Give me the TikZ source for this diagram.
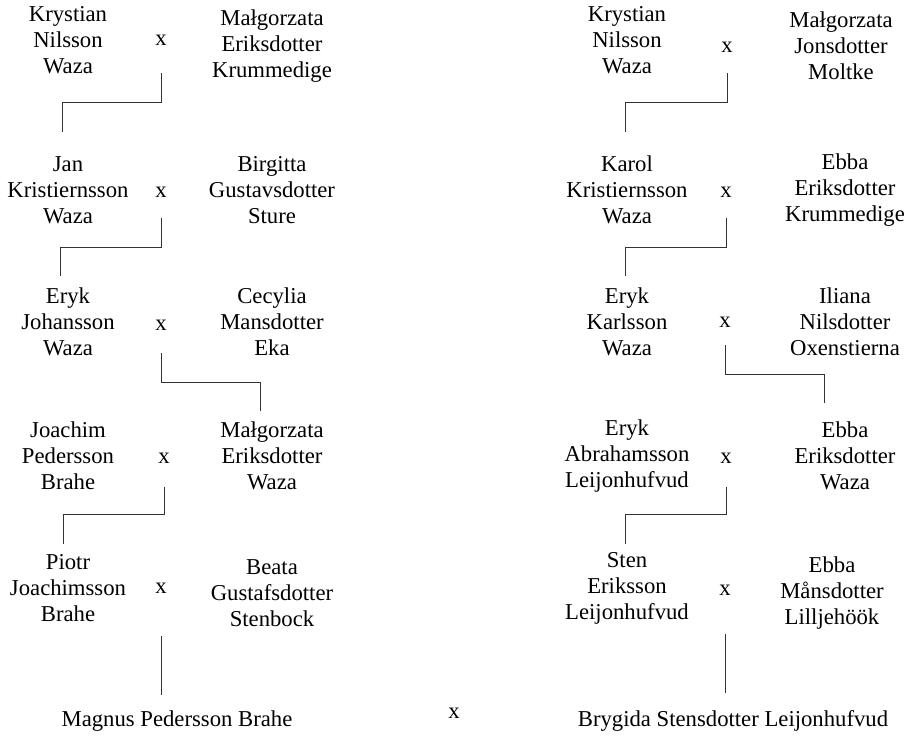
\documentclass[tikz,border=0pt]{standalone}
\usepackage{fontspec}
\setmainfont{Liberation Serif}
\usetikzlibrary{positioning}

\tikzset{
  person/.style={align=center, inner sep=0pt, font=\fontsize{22.7}{26}\selectfont},
  wed/.style={inner sep=0pt, font=\fontsize{22.7}{26}\selectfont},
  link/.style={draw=black!80, line width=0.9pt},
}

\begin{document}
\begin{tikzpicture}[x=1pt,y=1pt]
\useasboundingbox (0,0) rectangle (908,-737);

% left line of ancestors
\foreach \n/\x/\y/\t in {lA1/68/40/{Krystian\\Nilsson\\Waza},
    lB1/272/46/{Małgorzata\\Eriksdotter\\Krummedige},
    lA2/68/190/{Jan\\Kristiernsson\\Waza},
    lB2/272/190/{Birgitta\\Gustavsdotter\\Sture},
    lA3/68/322/{Eryk\\Johansson\\Waza},
    lB3/272/322/{Cecylia\\Mansdotter\\Eka},
    lA4/68/456/{Joachim\\Pedersson\\Brahe},
    lB4/272/456/{Małgorzata\\Eriksdotter\\Waza},
    lA5/68/588/{Piotr\\Joachimsson\\Brahe},
    lB5/272/593/{Beata\\Gustafsdotter\\Stenbock}}
    \node[person] (\n) at (\x,-\y) {\t};

% right line of ancestors
\foreach \n/\x/\y/\t in {rA1/627/40/{Krystian\\Nilsson\\Waza},
    rB1/841/46/{Małgorzata\\Jonsdotter\\Moltke},
    rA2/627/190/{Karol\\Kristiernsson\\Waza},
    rB2/845/190/{Ebba\\Eriksdotter\\Krummedige},
    rA3/627/322/{Eryk\\Karlsson\\Waza},
    rB3/845/322/{Iliana\\Nilsdotter\\Oxenstierna},
    rA4/627/456/{Eryk\\Abrahamsson\\Leijonhufvud},
    rB4/845/456/{Ebba\\Eriksdotter\\Waza},
    rA5/627/588/{Sten\\Eriksson\\Leijonhufvud},
    rB5/832/593/{Ebba\\Månsdotter\\Lilljehöök}}
    \node[person] (\n) at (\x,-\y) {\t};

% marriages
\foreach \n/\x/\y in {lx1/161/40, lx2/161/192, lx3/161/325, lx4/164/458, lx5/161/588,
    rx1/727/47, rx2/726/192, rx3/725/322, rx4/726/458, rx5/725/590, xfin/454/713}
    \node[wed] (\n) at (\x,-\y) {x};

\node[person] (magnus) at (177,-721) {Magnus Pedersson Brahe};
\node[person] (brygida) at (733,-721) {Brygida Stensdotter Leijonhufvud};

% descent
\foreach \a/\s/\h/\b/\dx/\dy in {lx1/33/29/lA2/-6/58, lx2/26/29/lA3/-8/46,
    lx3/28/29/lB4/-12/45, lx4/29/27/lA5/-5/44,
    rx1/26/29/rA2/-2/58, rx2/26/29/rA3/-2/46,
    rx3/23/29/rB4/-21/53, rx4/29/27/rA5/-2/44}
    \draw[link] ([yshift=-\s]\a.center) -- ++(0,-\h) -| ([xshift=\dx,yshift=\dy]\b.center);

\coordinate (mtop) at ([yshift=26]magnus.center);
\coordinate (btop) at ([yshift=28]brygida.center);
\draw[link] ([yshift=-48]lx5.center) -- (lx5.center |- mtop);
\draw[link] ([yshift=-44]rx5.center) -- (rx5.center |- btop);

\end{tikzpicture}
\end{document}
